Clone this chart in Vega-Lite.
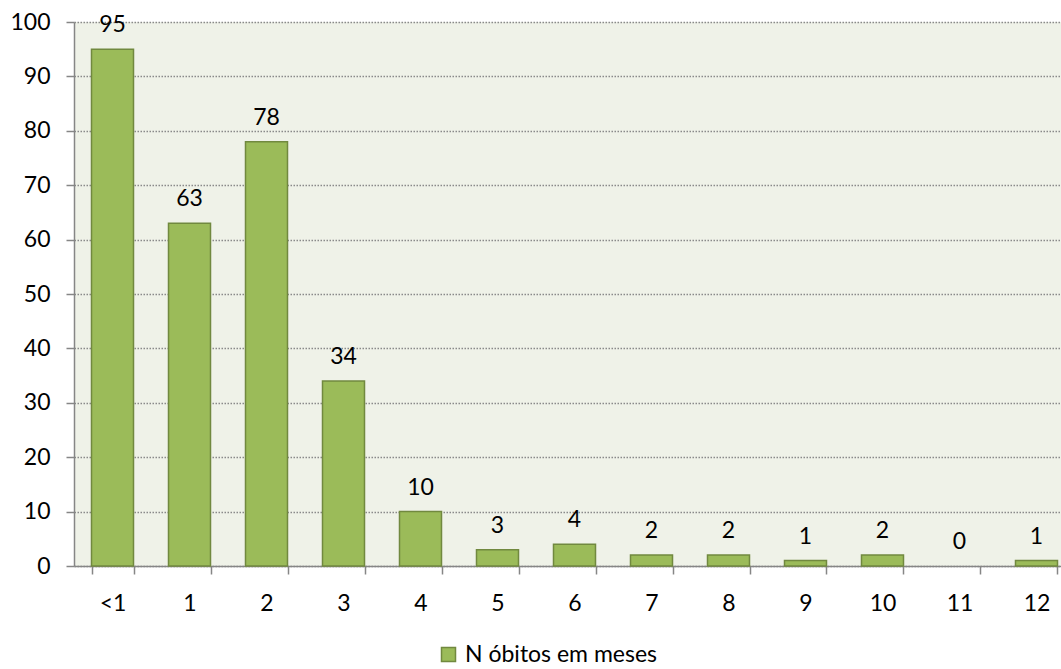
{
  "$schema": "https://vega.github.io/schema/vega-lite/v6.json",
  "width": 987,
  "height": 544,
  "autosize": {"type": "none"},
  "padding": {"left": 74, "top": 22, "right": 0, "bottom": 103},
  "background": "white",
  "config": {
    "font": "Lato",
    "view": {"fill": "#eff2e8", "stroke": null},
    "axis": {"labelFont": "Lato", "labelFontSize": 23, "labelColor": "#000000", "domainColor": "#868686", "tickColor": "#868686", "tickSize": 8, "domainWidth": 1.5, "tickWidth": 1.5}
  },
  "data": {
    "values": [
      {"mes": "<1", "obitos": 95},
      {"mes": "1", "obitos": 63},
      {"mes": "2", "obitos": 78},
      {"mes": "3", "obitos": 34},
      {"mes": "4", "obitos": 10},
      {"mes": "5", "obitos": 3},
      {"mes": "6", "obitos": 4},
      {"mes": "7", "obitos": 2},
      {"mes": "8", "obitos": 2},
      {"mes": "9", "obitos": 1},
      {"mes": "10", "obitos": 2},
      {"mes": "11", "obitos": 0},
      {"mes": "12", "obitos": 1}
    ]
  },
  "encoding": {
    "x": {
      "field": "mes", "type": "nominal", "sort": null, "title": null,
      "scale": {"paddingInner": 0.4545, "paddingOuter": 0.2273, "range": [0, 1001]},
      "axis": {"labelAngle": 0, "tickBand": "extent", "labelPadding": 18, "grid": false}
    },
    "y": {
      "field": "obitos", "type": "quantitative", "title": null,
      "scale": {"domain": [0, 100], "nice": false},
      "axis": {"values": [0,10,20,30,40,50,60,70,80,90,100], "grid": true, "gridColor": "#8a8a8a", "gridDash": [1.5, 1.5], "gridWidth": 1.5, "labelPadding": 16}
    }
  },
  "layer": [
    {
      "mark": {"type": "bar", "stroke": "#71893f", "strokeWidth": 1.5},
      "encoding": {
        "color": {
          "datum": "N óbitos em meses", "type": "nominal",
          "scale": {"range": ["#9bbb59"]},
          "legend": {"title": null, "orient": "none", "legendX": 363, "legendY": 621, "symbolType": "square", "symbolSize": 196, "symbolStrokeColor": "#71893f", "symbolStrokeWidth": 1.5, "labelFontSize": 23, "labelFont": "Lato", "labelColor": "#000000", "labelOffset": 5, "labelLimit": 0}
        },
        "opacity": {"condition": {"test": "datum.obitos == 0", "value": 0}, "value": 1}
      }
    },
    {
      "mark": {"type": "text", "fontSize": 23, "font": "Lato", "color": "#000000", "baseline": "middle", "dy": -24},
      "encoding": {
        "text": {"field": "obitos", "type": "quantitative"}
      }
    }
  ]
}
